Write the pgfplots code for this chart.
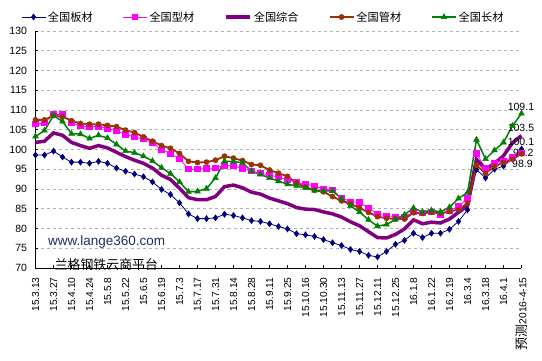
\documentclass[border=0pt]{standalone}
\usepackage{pgfplots}
\usepackage{pgfplotstable}
\pgfplotsset{compat=1.18}
\usepackage{fontspec}
\setmainfont{Liberation Sans}
\newfontfamily\cjk{Noto Sans CJK SC}
\definecolor{cnavy}{HTML}{000080}
\definecolor{cpink}{HTML}{FF00FF}
\definecolor{cpurple}{HTML}{800080}
\definecolor{cbrown}{HTML}{993300}
\definecolor{cgreen}{HTML}{008000}
\definecolor{cweb}{HTML}{1F2F5F}
\pgfplotstableread{
i ban xing zong guan chang
0 98.6 106.5 101.8 107.5 103.3
1 98.6 106.7 102.1 107.5 104.8
2 99.6 108.9 104.2 108.6 108.6
3 98.1 108.9 103.6 108.3 107.1
4 96.8 106.8 101.8 107.3 104.0
5 96.8 105.9 101.0 106.6 103.9
6 96.5 105.8 100.3 106.4 102.8
7 97.0 105.8 101.0 106.4 103.6
8 96.5 105.3 100.4 106.1 102.9
9 95.3 104.8 99.3 105.8 101.3
10 94.5 103.8 98.2 104.9 99.6
11 93.8 103.2 97.3 104.3 99.2
12 93.1 102.6 96.5 103.2 98.3
13 91.8 101.7 95.3 102.1 97.1
14 89.9 100.0 93.5 101.0 95.4
15 88.6 98.9 92.4 100.3 93.9
16 86.5 97.7 90.2 99.0 91.8
17 83.7 95.0 87.8 97.0 89.3
18 82.5 95.0 87.3 96.7 89.4
19 82.5 95.2 87.3 96.8 90.1
20 82.7 95.3 88.1 97.3 92.8
21 83.6 96.0 90.6 98.3 97.0
22 83.3 95.8 91.0 97.8 97.0
23 82.7 95.2 90.3 97.2 96.6
24 82.0 94.5 89.2 96.2 94.5
25 81.8 94.0 88.7 96.0 93.7
26 81.2 93.5 87.7 94.8 92.8
27 80.5 93.0 87.0 94.0 92.0
28 79.9 92.3 86.3 93.2 91.2
29 78.7 91.7 85.3 91.5 90.8
30 78.4 91.2 84.9 90.5 90.3
31 78.0 90.8 84.8 89.7 89.6
32 77.2 90.0 84.2 89.3 89.5
33 76.4 89.7 83.7 88.1 89.5
34 75.7 87.7 82.9 87.0 87.6
35 74.7 86.8 81.7 86.2 85.7
36 74.2 86.6 80.7 85.2 84.2
37 73.2 85.2 79.2 84.1 82.2
38 72.8 83.7 77.7 83.0 80.6
39 74.2 83.2 77.6 82.6 81.0
40 76.0 83.0 78.5 82.4 82.3
41 77.0 82.9 79.9 82.4 83.5
42 78.8 84.2 82.2 84.0 85.2
43 77.7 83.9 81.2 83.8 84.2
44 78.8 84.3 81.6 84.1 84.6
45 78.8 83.5 81.4 83.9 84.2
46 79.8 84.5 82.4 84.3 85.4
47 81.8 85.6 84.1 84.8 87.6
48 84.7 87.6 85.8 86.4 89.1
49 94.9 99.0 97.5 96.0 102.5
50 92.8 95.2 95.0 94.0 97.6
51 95.0 96.7 96.5 95.7 99.8
52 95.8 97.1 98.4 96.7 101.8
53 97.7 98.0 101.7 97.5 106.0
54 100.1 99.2 103.5 98.9 109.1
}\steel
\begin{document}
\begin{tikzpicture}
\begin{axis}[
  scale only axis, width=486pt, height=237pt,
  xmin=0, xmax=54, ymin=70, ymax=130,
  ytick={70,75,...,130},
  xtick={0,2,...,54},
  xticklabels={15.3.13,15.3.27,15.4.10,15.4.24,15.5.8,15.5.22,15.6.5,15.6.19,15.7.3,15.7.17,15.7.31,15.8.14,15.8.28,15.9.11,15.9.25,15.10.16,15.10.30,15.11.13,15.11.27,15.12.11,15.12.25,16.1.8,16.1.22,16.2.19,16.3.4,16.3.18,16.4.1,{{\cjk\fontsize{13}{13}\selectfont 预测}2016-4-15}},
  xticklabel style={rotate=90, anchor=east, font=\fontsize{10.2}{12}\selectfont},
  xticklabel shift=6pt,
  yticklabel style={font=\fontsize{10.5}{12}\selectfont},
  yticklabel shift=5pt,
  /pgf/number format/assume math mode=true,
  axis x line*=bottom, axis y line*=left,
  axis line style={black, line width=0.8pt},
  tick style={black, line width=0.6pt},
  major tick length=3pt,
  tick align=inside,
  ymajorgrids,
  grid style={color=black!30, dash pattern=on 3pt off 3pt, line width=0.7pt},
  clip=false,
  legend columns=5,
  legend style={draw=none, fill=none, at={(-0.03,1.059)}, anchor=west,
    font=\fontsize{11.2}{13}\selectfont\cjk,
    /tikz/every even column/.append style={column sep=28pt},
    inner sep=0pt},
  legend image code/.code={\draw[mark repeat=2,mark phase=2,#1] plot coordinates {(0pt,0pt) (12pt,0pt) (24pt,0pt)};},
]
\addplot[color=cnavy, line width=0.8pt, mark=diamond*, mark size=2.8pt, mark options={solid, fill=cnavy}] table[x=i, y=ban] {\steel};
\addlegendentry{全国板材}
\addplot[color=cpink, line width=0.8pt, mark=square*, mark size=2.6pt, mark options={solid, fill=cpink}] table[x=i, y=xing] {\steel};
\addlegendentry{全国型材}
\addplot[color=cpurple, line width=3.5pt, no marks] table[x=i, y=zong] {\steel};
\addlegendentry{全国综合}
\addplot[color=cbrown, line width=1.8pt, mark=*, mark size=2.6pt, mark options={solid, fill=cbrown, line width=0.5pt}] table[x=i, y=guan] {\steel};
\addlegendentry{全国管材}
\addplot[color=cgreen, line width=1.5pt, mark=triangle*, mark size=3.3pt, mark options={solid, fill=cgreen, line width=0.5pt}] table[x=i, y=chang] {\steel};
\addlegendentry{全国长材}
\node[anchor=west, font=\fontsize{13.5}{15}\selectfont, text=cweb] at (axis cs:1.0,76.5) {www.lange360.com};
\node[anchor=west, font=\fontsize{12.9}{14}\selectfont\cjk] at (axis cs:1.75,70.8) {兰格钢铁云商平台};
\node[font=\fontsize{10.5}{12}\selectfont] at (axis cs:53.94,110.86) {109.1};
\node[font=\fontsize{10.5}{12}\selectfont] at (axis cs:53.94,105.4) {103.5};
\node[font=\fontsize{10.5}{12}\selectfont] at (axis cs:53.94,101.9) {100.1};
\node[font=\fontsize{10.5}{12}\selectfont] at (axis cs:54.2,99.2) {99.2};
\node[font=\fontsize{10.5}{12}\selectfont] at (axis cs:54.1,96.3) {98.9};
\end{axis}
\pgfresetboundingbox
\useasboundingbox (-35.5pt,-92pt) rectangle (506.5pt,268pt);
\end{tikzpicture}
\end{document}
